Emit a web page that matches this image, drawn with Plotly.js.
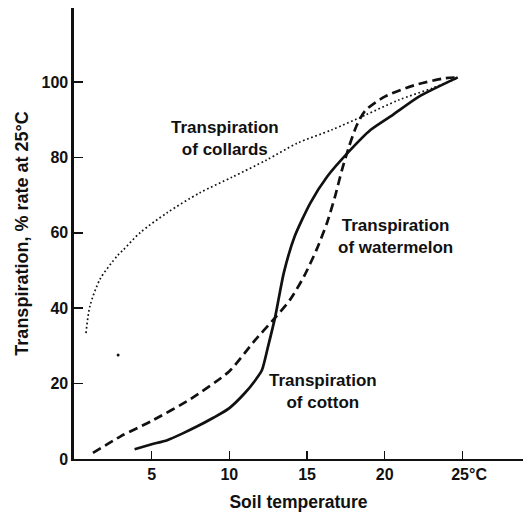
<!DOCTYPE html>
<html>
<head>
<meta charset="utf-8">
<script src="https://cdn.plot.ly/plotly-3.0.1.min.js"></script>
<style>html,body{margin:0;padding:0;background:#fff}#chart{width:530px;height:512px}</style>
</head>
<body>
<div id="chart"></div>
<script>
// Soil temperature (°C) vs transpiration (% of rate at 25°C)
const cottonX = [3.9, 5, 6, 7, 8, 9, 10, 11, 11.6, 12.1, 12.5, 12.95, 13.5, 14.2, 15.2, 16.3, 17.6, 19.1, 20.5, 22.2, 24.7];
const cottonY = [2.6, 3.9, 5.0, 6.8, 8.8, 11, 13.5, 17.5, 20.5, 23.6, 30, 37.7, 49.3, 59, 67.8, 74.9, 81.1, 87.3, 91.2, 96.1, 101.2];

const watermelonX = [1.22, 3, 5, 7.5, 10, 11.55, 12.95, 13.9, 14.8, 15.6, 16.3, 16.8, 17.25, 17.7, 18.2, 18.75, 20.0, 21.97, 23.9, 24.7];
const watermelonY = [1.6, 6, 10.1, 15.9, 23.3, 31.0, 37.5, 42.2, 48.4, 55.4, 62.8, 69.6, 76.7, 82.8, 88.5, 92.4, 96.1, 99.2, 101, 101.2];

const collardsX = [0.77, 1.03, 1.68, 2.77, 3.16, 4.25, 5.99, 8.1, 10.2, 12.4, 14.4, 16.6, 18.75, 20.9, 23.1, 24.7];
const collardsY = [33.4, 40.6, 47.7, 53.8, 55.4, 60, 65.3, 70.6, 74.8, 79.3, 83.8, 87.3, 91.2, 95.2, 98.4, 101];

const speckX = [2.84];
const speckY = [27.6];

const xTickVals = [5, 10, 15, 20, 25];
const xTickText = ['5', '10', '15', '20', '\u00a0\u00a0\u00a025\u00b0C'];
const yTickVals = [0, 20, 40, 60, 80, 100];
const yTickText = ['0', '20', '40', '60', '80', '100'];

const xTitle = '\u00a0\u00a0\u00a0Soil temperature';
const yTitle = 'Transpiration, % rate at 25\u00b0C';
const labelText = {
  collards: 'Transpiration<br>of collards',
  watermelon: 'Transpiration<br>of watermelon',
  cotton: 'Transpiration<br>of cotton'
};

const FONT = 'Liberation Sans, Arial, Helvetica, sans-serif';
const INK = '#111';

const traces = [
  {x: collardsX, y: collardsY, mode: 'lines', line: {color: INK, width: 1.7, dash: '1.7px,2.6px', shape: 'spline', smoothing: 0.8}, hoverinfo: 'skip'},
  {x: watermelonX, y: watermelonY, mode: 'lines', line: {color: INK, width: 2.7, dash: '9px,5px', shape: 'spline', smoothing: 0.7}, hoverinfo: 'skip'},
  {x: cottonX, y: cottonY, mode: 'lines', line: {color: INK, width: 2.7, shape: 'spline', smoothing: 0.6}, hoverinfo: 'skip'},
  {x: speckX, y: speckY, mode: 'markers', marker: {color: INK, size: 3}, hoverinfo: 'skip'}
];

const annFont = {family: FONT, size: 17, color: INK, weight: 'bold'};

const layout = {
  width: 530, height: 512,
  margin: {l: 74, r: 7, t: 8, b: 53},
  paper_bgcolor: '#fff', plot_bgcolor: '#fff',
  showlegend: false,
  font: {family: FONT, size: 16, color: INK},
  xaxis: {
    range: [0, 28.9], showgrid: false, zeroline: false,
    showline: true, linecolor: INK, linewidth: 1.6,
    ticks: 'inside', ticklen: 8, tickwidth: 1.5, tickcolor: INK,
    tickvals: xTickVals, ticktext: xTickText,
    tickfont: {family: FONT, size: 16, color: INK, weight: 'bold'},
    title: {text: xTitle, font: {family: FONT, size: 17.5, color: INK, weight: 'bold'}, standoff: 17}
  },
  yaxis: {
    range: [0, 119.6], showgrid: false, zeroline: false,
    showline: true, linecolor: INK, linewidth: 2.6,
    ticks: 'inside', ticklen: 9, tickwidth: 1.5, tickcolor: INK,
    tickvals: yTickVals, ticktext: yTickText,
    tickfont: {family: FONT, size: 16, color: INK, weight: 'bold'},
    title: {text: yTitle, font: {family: FONT, size: 18, color: INK, weight: 'bold'}, standoff: 8}
  },
  annotations: [
    {x: 9.73, y: 85.1, xref: 'x', yref: 'y', text: labelText.collards, showarrow: false, align: 'center', font: annFont},
    {x: 20.7, y: 58.9, xref: 'x', yref: 'y', text: labelText.watermelon, showarrow: false, align: 'center', font: annFont},
    {x: 16.0, y: 17.8, xref: 'x', yref: 'y', text: labelText.cotton, showarrow: false, align: 'center', font: annFont}
  ]
};

Plotly.newPlot('chart', traces, layout, {staticPlot: true, displayModeBar: false});
</script>
</body>
</html>
